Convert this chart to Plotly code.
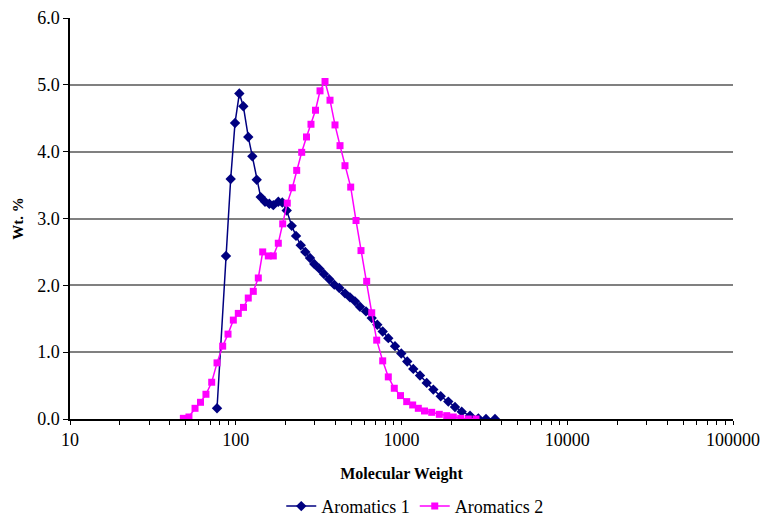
import plotly.graph_objects as go

# Aromatics 1 (navy diamonds)
mw1 = [77.1, 87.3, 93.2, 99.0, 105.1, 111.1, 119.0, 125.9, 133.8, 141.4, 150.2, 159.4,
       168.5, 180.6, 190.9, 203.0, 217.6, 231.0, 246.6, 262.8, 280.5, 297.8, 319.2,
       340.7, 366.7, 393.1, 421.5, 456.1, 489.0, 524.3, 561.8, 610.7, 661.2, 714.5,
       770.2, 832.6, 913.9, 997, 1083, 1178, 1293, 1419, 1556, 1724, 1916, 2102,
       2308, 2591, 2907, 3235, 3665]
wt1 = [0.16, 2.44, 3.59, 4.43, 4.87, 4.68, 4.22, 3.93, 3.58, 3.32, 3.25, 3.22,
       3.20, 3.25, 3.24, 3.12, 2.89, 2.74, 2.60, 2.50, 2.41, 2.32, 2.25,
       2.17, 2.09, 2.01, 1.96, 1.88, 1.82, 1.76, 1.68, 1.61, 1.51, 1.41,
       1.31, 1.21, 1.09, 0.98, 0.86, 0.75, 0.65, 0.54, 0.44, 0.34, 0.26, 0.18,
       0.11, 0.05, 0.01, 0.0, 0.0]

# Aromatics 2 (magenta squares)
mw2 = [48.3, 52.2, 56.8, 61.3, 66.1, 71.6, 77.1, 83.4, 89.8, 96.7, 103.6, 111.4,
       119.0, 127.6, 136.8, 145.4, 157.2, 168.5, 180.6, 192.0, 204.6, 219.4, 233.2,
       250.0, 267.2, 284.4, 302.8, 322.4, 345.6, 370.4, 397.0, 425.6, 456.1, 493.8,
       531.6, 569.6, 616.6, 661.2, 708.6, 770.2, 832.6, 904.7, 986.3, 1075, 1168,
       1263, 1376, 1521, 1691, 1874, 2054, 2276, 2530, 2815]
wt2 = [0.01, 0.03, 0.16, 0.25, 0.37, 0.55, 0.84, 1.09, 1.27, 1.48, 1.58, 1.67,
       1.81, 1.91, 2.11, 2.50, 2.44, 2.44, 2.63, 2.92, 3.23, 3.46, 3.72,
       3.99, 4.22, 4.41, 4.62, 4.91, 5.05, 4.77, 4.40, 4.09, 3.79, 3.47,
       2.97, 2.52, 2.06, 1.59, 1.18, 0.87, 0.63, 0.46, 0.35, 0.26, 0.21,
       0.16, 0.12, 0.10, 0.07, 0.05, 0.03, 0.01, 0.0, 0.0]

y_ticks = [0, 1, 2, 3, 4, 5, 6]
y_labels = ["0.0", "1.0", "2.0", "3.0", "4.0", "5.0", "6.0"]
x_ticks = [10, 100, 1000, 10000, 100000]
x_labels = ["10", "100", "1000", "10000", "100000"]
minor_mult = [2, 3, 4, 5, 6, 7, 8, 9]
minor_vals = [m * d for d in x_ticks[:-1] for m in minor_mult]

FONT = "Liberation Serif"
NAVY = "#000080"
MAG = "#FF00FF"

fig = go.Figure()
fig.add_trace(go.Scatter(
    x=mw1, y=wt1, name="Aromatics 1", mode="lines+markers",
    line=dict(color=NAVY, width=1.5),
    marker=dict(symbol="diamond", size=8, color=NAVY),
))
fig.add_trace(go.Scatter(
    x=mw2, y=wt2, name="Aromatics 2", mode="lines+markers",
    line=dict(color=MAG, width=1.5),
    marker=dict(symbol="square", size=7, color=MAG),
))

fig.update_layout(
    width=763, height=518,
    margin=dict(l=70, r=30, t=18, b=99, autoexpand=False),
    paper_bgcolor="white", plot_bgcolor="white",
    font=dict(family=FONT, size=18, color="black"),
    showlegend=True,
    legend=dict(orientation="h", x=0.52, xanchor="center", y=-0.218, yanchor="middle",
                font=dict(size=18, family=FONT), itemwidth=30, tracegroupgap=0,
                bgcolor="rgba(0,0,0,0)", borderwidth=0),
    xaxis=dict(
        type="log", range=[1, 5],
        tickvals=x_ticks, ticktext=x_labels,
        showgrid=False, zeroline=False,
        showline=True, linecolor="black", linewidth=1.5,
        ticks="outside", ticklen=4, tickcolor="black", tickwidth=1,
        minor=dict(tickvals=minor_vals, ticks="outside", ticklen=4, tickcolor="black",
                   tickwidth=1, showgrid=False),
        tickfont=dict(size=18, family=FONT),
        title=dict(text="<b>Molecular Weight</b>", font=dict(size=16, family=FONT), standoff=18),
    ),
    yaxis=dict(
        range=[0, 6], tickvals=y_ticks, ticktext=y_labels,
        showgrid=True, gridcolor="#808080", gridwidth=1.5,
        zeroline=False,
        showline=True, linecolor="black", linewidth=1.5,
        ticks="outside", ticklen=5, tickcolor="black", tickwidth=1,
        tickfont=dict(size=18, family=FONT),
        title=dict(text="<b>Wt. %</b>", font=dict(size=15, family=FONT), standoff=10),
    ),
)

fig.write_html("out.html")
